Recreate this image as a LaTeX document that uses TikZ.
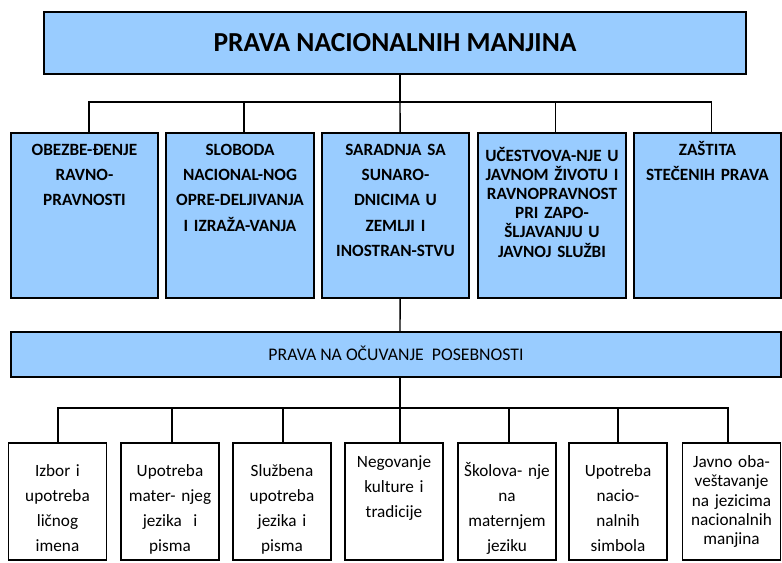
\documentclass[tikz,border=0pt]{standalone}
\usepackage{fontspec}
\setmainfont{Carlito}
\definecolor{boxblue}{RGB}{153,204,255}
\tikzset{
  conn/.style={line width=1.1pt, black},
  bluebox/.style={draw, line width=1.5pt, fill=boxblue, inner sep=0pt},
  topbox/.style={bluebox, minimum width=110.5pt, minimum height=123.75pt},
  whitebox/.style={draw, line width=1.2pt, fill=white, inner sep=0pt, minimum width=73.5pt, minimum height=87.75pt},
  toptxt/.style={anchor=base, align=center, inner sep=0pt, text width=108pt, font=\bfseries\fontsize{12.9}{19.1}\selectfont},
  toptxtb/.style={toptxt, font=\bfseries\fontsize{12.9}{14.3}\selectfont},
  bottxt/.style={anchor=base, align=center, inner sep=0pt, text width=72pt, font=\fontsize{12.9}{18.75}\selectfont},
  bottxtb/.style={bottxt, font=\fontsize{12.9}{14.5}\selectfont}
}
\begin{document}
\begin{tikzpicture}[x=0.75pt, y=-0.75pt]
\useasboundingbox (0,0) rectangle (782,562);
% title
\node[bluebox, line width=1.6pt, minimum width=526.5pt, minimum height=46.5pt,
      text height=13.2pt, text depth=0pt, font=\bfseries\fontsize{20.6}{24}\selectfont] (title) at (395,43) {PRAVA NACIONALNIH MANJINA};
% top row
\node[topbox] (t1) at (84.5,215.5) {};
\node[topbox] (t2) at (240,215.5) {};
\node[topbox] (t3) at (395.5,215.5) {};
\node[topbox] (t4) at (552,215.5) {};
\node[topbox] (t5) at (707.5,215.5) {};
\node[toptxt] (tx1) at (84.5,155) {OBEZBE-ĐENJE\\RAVNO-\\PRAVNOSTI};
\node[toptxt] (tx2) at (240,155) {SLOBODA\\NACIONAL-NOG\\OPRE-DELJIVANJA\\I IZRAŽA-VANJA};
\node[toptxt] (tx3) at (395.5,155) {SARADNJA SA\\SUNARO-\\DNICIMA U\\ZEMLJI I\\INOSTRAN-STVU};
\node[toptxtb] (tx4) at (552,161.7) {UČESTVOVA-NJE U\\JAVNOM ŽIVOTU I\\RAVNOPRAVNOST\\PRI ZAPO-\\ŠLJAVANJU U\\JAVNOJ SLUŽBI};
\node[toptxt] (tx5) at (707.5,155) {ZAŠTITA\\STEČENIH PRAVA};
% middle bar
\node[bluebox, line width=1.2pt, minimum width=577.5pt, minimum height=33.75pt,
      text height=8.6pt, text depth=0pt, font=\fontsize{13.3}{16}\selectfont] (mid) at (396,354.5) {PRAVA NA OČUVANJE~ POSEBNOSTI};
% bottom row
\node[whitebox] (b1) at (57.5,501.5) {};
\node[whitebox] (b2) at (170,501.5) {};
\node[whitebox] (b3) at (282,501.5) {};
\node[whitebox] (b4) at (394,501.5) {};
\node[whitebox] (b5) at (507,501.5) {};
\node[whitebox] (b6) at (618,501.5) {};
\node[whitebox] (b7) at (731.5,501.5) {};
\node[bottxt] (bx1) at (57.5,476) {Izbor i\\upotreba\\ličnog\\imena};
\node[bottxt] (bx2) at (170,476) {Upotreba\\mater- njeg\\jezika~ i\\pisma};
\node[bottxt] (bx3) at (282,476) {Službena\\upotreba\\jezika i\\pisma};
\node[bottxt] (bx4) at (394,467.5) {Negovanje\\kulture i\\tradicije};
\node[bottxt] (bx5) at (507,476) {Školova- nje\\na\\maternjem\\jeziku};
\node[bottxt] (bx6) at (618,476) {Upotreba\\nacio-\\nalnih\\simbola};
\node[bottxtb] (bx7) at (731.5,467.5) {Javno oba-\\veštavanje\\na jezicima\\nacionalnih\\manjina};
% junctions
\coordinate (j1) at (400,102);
\coordinate (j2) at (400,408);
% connectors
\draw[conn] ([xshift=3.75pt]title.south) -- (j1);
\draw[conn] ([xshift=3.4pt]t1.north) |- (j1);
\draw[conn] ([xshift=3pt]t2.north) |- (j1);
\draw[conn] ([xshift=3.4pt]t3.north) -- (j1);
\draw[conn] ([xshift=2.8pt]t4.north) |- (j1);
\draw[conn] ([xshift=3.1pt]t5.north) |- (j1);
\draw[conn] ([xshift=3.4pt]t3.south) -- ([xshift=3pt]mid.north);
\draw[conn] ([xshift=3pt]mid.south) -- (j2);
\draw[conn] ([xshift=0.4pt]b1.north) |- (j2);
\draw[conn] ([xshift=1.5pt]b2.north) |- (j2);
\draw[conn] ([xshift=0.75pt]b3.north) |- (j2);
\draw[conn] ([xshift=4.5pt]b4.north) -- (j2);
\draw[conn] ([xshift=1.5pt]b5.north) |- (j2);
\draw[conn] (b6.north) |- (j2);
\draw[conn] ([xshift=-2.6pt]b7.north) |- (j2);
\end{tikzpicture}
\end{document}
